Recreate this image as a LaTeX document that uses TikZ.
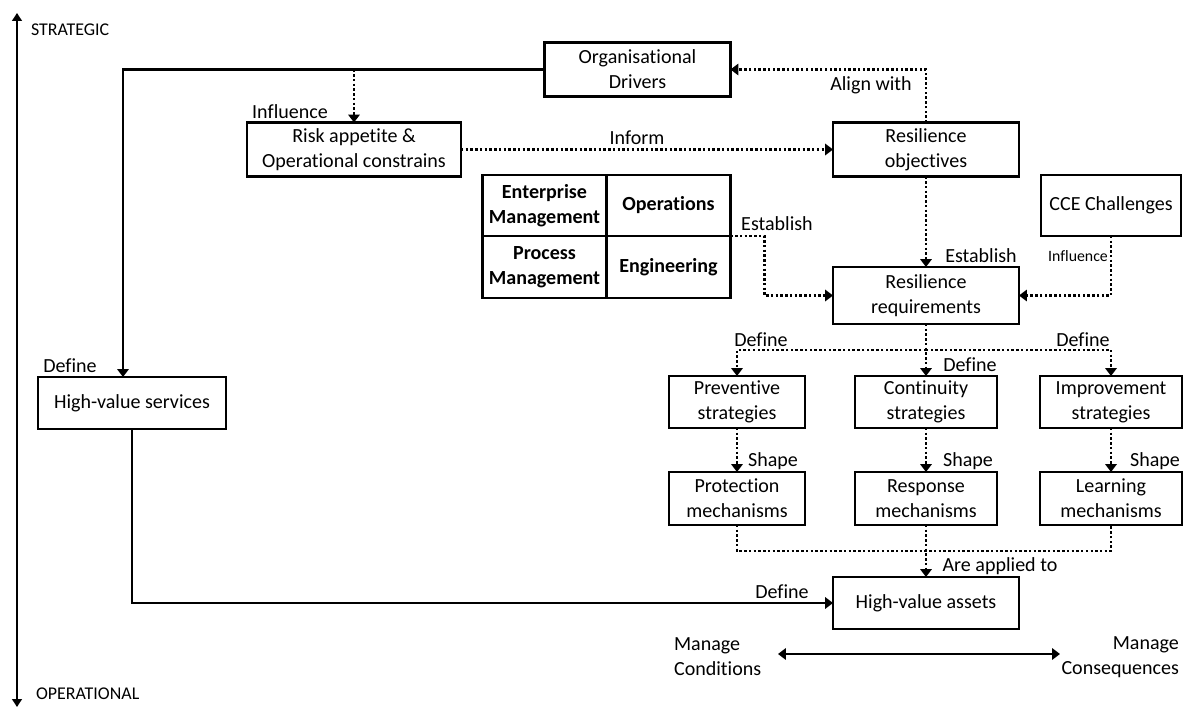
\documentclass[tikz,border=0pt]{standalone}
\usepackage{fontspec}
\setmainfont{Carlito}[Ligatures=CommonOff]
\usetikzlibrary{arrows.meta, positioning, calc}

\tikzset{
    box/.style={draw, line width=1.3pt, align=center, inner sep=1pt, outer sep=0pt,
        minimum width=3.72cm, minimum height=1.08cm},
    stratBox/.style={box, minimum width=2.72cm, minimum height=1.04cm},
    cell/.style={draw, line width=1.3pt, align=center, inner sep=1pt, outer sep=0pt,
        font=\fontsize{11.4}{14.2}\selectfont\bfseries, minimum width=2.48cm, minimum height=1.23cm},
    solidLink/.style={line width=1.3pt, -{Triangle[length=4.5pt,width=6.5pt]}},
    dotLink/.style={solidLink, dash pattern=on 1.4pt off 1.3pt},
    dotLine/.style={line width=1.3pt, dash pattern=on 1.4pt off 1.3pt},
    lbl/.style={inner sep=1pt}
}

\begin{document}
\begin{tikzpicture}[x=0.02cm, y=-0.02cm, font=\fontsize{11.4}{14.2}\selectfont]
    % Fix the page size
    \useasboundingbox (0,0) rectangle (1183,709);

    % Draw strategic / operational axis
    \coordinate (axisTop) at (17,13);
    \coordinate (axisBottom) at (17,707);
    \draw[line width=1.3pt, {Triangle[length=4.5pt,width=5.5pt]}-{Triangle[length=4.5pt,width=5.5pt]}]
        (axisBottom) -- (axisTop);
    \node[lbl, anchor=west, font=\fontsize{10.2}{12}\selectfont] (strategicLbl) at (29,30) {STRATEGIC};
    \node[lbl, anchor=west, font=\fontsize{10.2}{12}\selectfont] (operationalLbl) at (34,694) {OPERATIONAL};

    % Define the boxes
    \node[box] (orgDrivers) at (637.5,69.5) {Organisational\\Drivers};
    \node[box, minimum width=4.28cm] (riskBox) at (354,149.5) {Risk appetite \&\\Operational constrains};
    \node[box] (resObj) at (926,149.5) {Resilience\\objectives};
    \node[box, minimum height=1.14cm] (resReq) at (926,295.5) {Resilience\\requirements};
    \node[box, minimum width=2.8cm, minimum height=1.22cm] (cceBox) at (1111,205.5) {CCE Challenges};
    \node[box, minimum width=3.76cm, minimum height=1.04cm] (hvServices) at (132,403) {High-value services};
    \node[box, minimum height=1.04cm] (hvAssets) at (926,603) {High-value assets};

    % Management table
    \node[cell] (entMgmt) at (544.5,205.5) {Enterprise\\Management};
    \node[cell, right=0pt of entMgmt] (opsCell) {Operations};
    \node[cell, below=0pt of entMgmt] (procMgmt) {Process\\Management};
    \node[cell, right=0pt of procMgmt] (engCell) {Engineering};

    % Strategies and mechanisms
    \node[stratBox] (prevStrat) at (737,402) {Preventive\\strategies};
    \node[stratBox, minimum width=2.84cm] (contStrat) at (926,402) {Continuity\\strategies};
    \node[stratBox, minimum width=2.84cm] (imprStrat) at (1111,402) {Improvement\\strategies};
    \node[stratBox, minimum height=1.06cm] (protMech) at (737,498.5) {Protection\\mechanisms};
    \node[stratBox, minimum width=2.84cm, minimum height=1.06cm] (respMech) at (926,498.5) {Response\\mechanisms};
    \node[stratBox, minimum width=2.84cm, minimum height=1.06cm] (learnMech) at (1111,498.5) {Learning\\mechanisms};

    % Solid connectors
    \draw[solidLink] (orgDrivers.west) -| ($(hvServices.north)+(-9,0)$);
    \draw[solidLink] (hvServices.south) |- (hvAssets.west);

    % Dotted connectors in the upper part
    \draw[dotLink] (riskBox.north |- orgDrivers.west) -- (riskBox.north);
    \draw[dotLink] (riskBox.east) -- (resObj.west);
    \draw[dotLink] (resObj.north) |- (orgDrivers.east);
    \draw[dotLink] (resObj.south) -- (resReq.north);
    \draw[dotLink] (opsCell.south east) -- ++(34,0) |- (resReq.west);
    \draw[dotLink] (cceBox.south) |- (resReq.east);

    % Requirements define the strategies
    \coordinate (split) at ($(resReq.south)!0.5!(contStrat.north)$);
    \draw[dotLink] (resReq.south) -- (contStrat.north);
    \draw[dotLink] (split) -| (prevStrat.north);
    \draw[dotLink] (split) -| (imprStrat.north);

    % Strategies shape the mechanisms
    \draw[dotLink] (prevStrat.south) -- (protMech.north);
    \draw[dotLink] (contStrat.south) -- (respMech.north);
    \draw[dotLink] (imprStrat.south) -- (learnMech.north);

    % Mechanisms are applied to the assets
    \coordinate (merge) at ($(respMech.south)!0.5!(hvAssets.north)$);
    \draw[dotLine] (protMech.south) |- (merge) -| (learnMech.south);
    \draw[dotLink] (respMech.south) -- (hvAssets.north);

    % Connector labels
    \node[lbl] (defineSrvLbl) at (70,366) {Define};
    \node[lbl] (influenceLbl) at (290,112) {Influence};
    \node[lbl] (informLbl) at (637,138) {Inform};
    \node[lbl] (alignLbl) at (871,85) {Align with};
    \node[lbl] (establishObjLbl) at (981,256) {Establish};
    \node[lbl] (establishTabLbl) at (777,224) {Establish};
    \node[lbl, font=\fontsize{9}{11}\selectfont] (influenceCceLbl) at (1078,256) {Influence};
    \node[lbl] (definePrevLbl) at (761,340) {Define};
    \node[lbl] (defineContLbl) at (970,365) {Define};
    \node[lbl] (defineImprLbl) at (1083,340) {Define};
    \node[lbl] (shapeProtLbl) at (773,461) {Shape};
    \node[lbl] (shapeRespLbl) at (968,461) {Shape};
    \node[lbl] (shapeLearnLbl) at (1155,461) {Shape};
    \node[lbl] (appliedLbl) at (1000,566) {Are applied to};
    \node[lbl] (defineAssetLbl) at (782,592) {Define};

    % Conditions versus consequences
    \node[lbl, anchor=west, align=left] (condLbl) at (672,657) {Manage\\Conditions};
    \node[lbl, anchor=east, align=right] (consLbl) at (1181,657) {Manage\\Consequences};
    \coordinate (condEnd) at (778,654);
    \coordinate (consEnd) at (1060,654);
    \draw[line width=1.3pt, {Triangle[length=4.5pt,width=6.5pt]}-{Triangle[length=4.5pt,width=6.5pt]}]
        (condEnd) -- (consEnd);

\end{tikzpicture}
\end{document}
